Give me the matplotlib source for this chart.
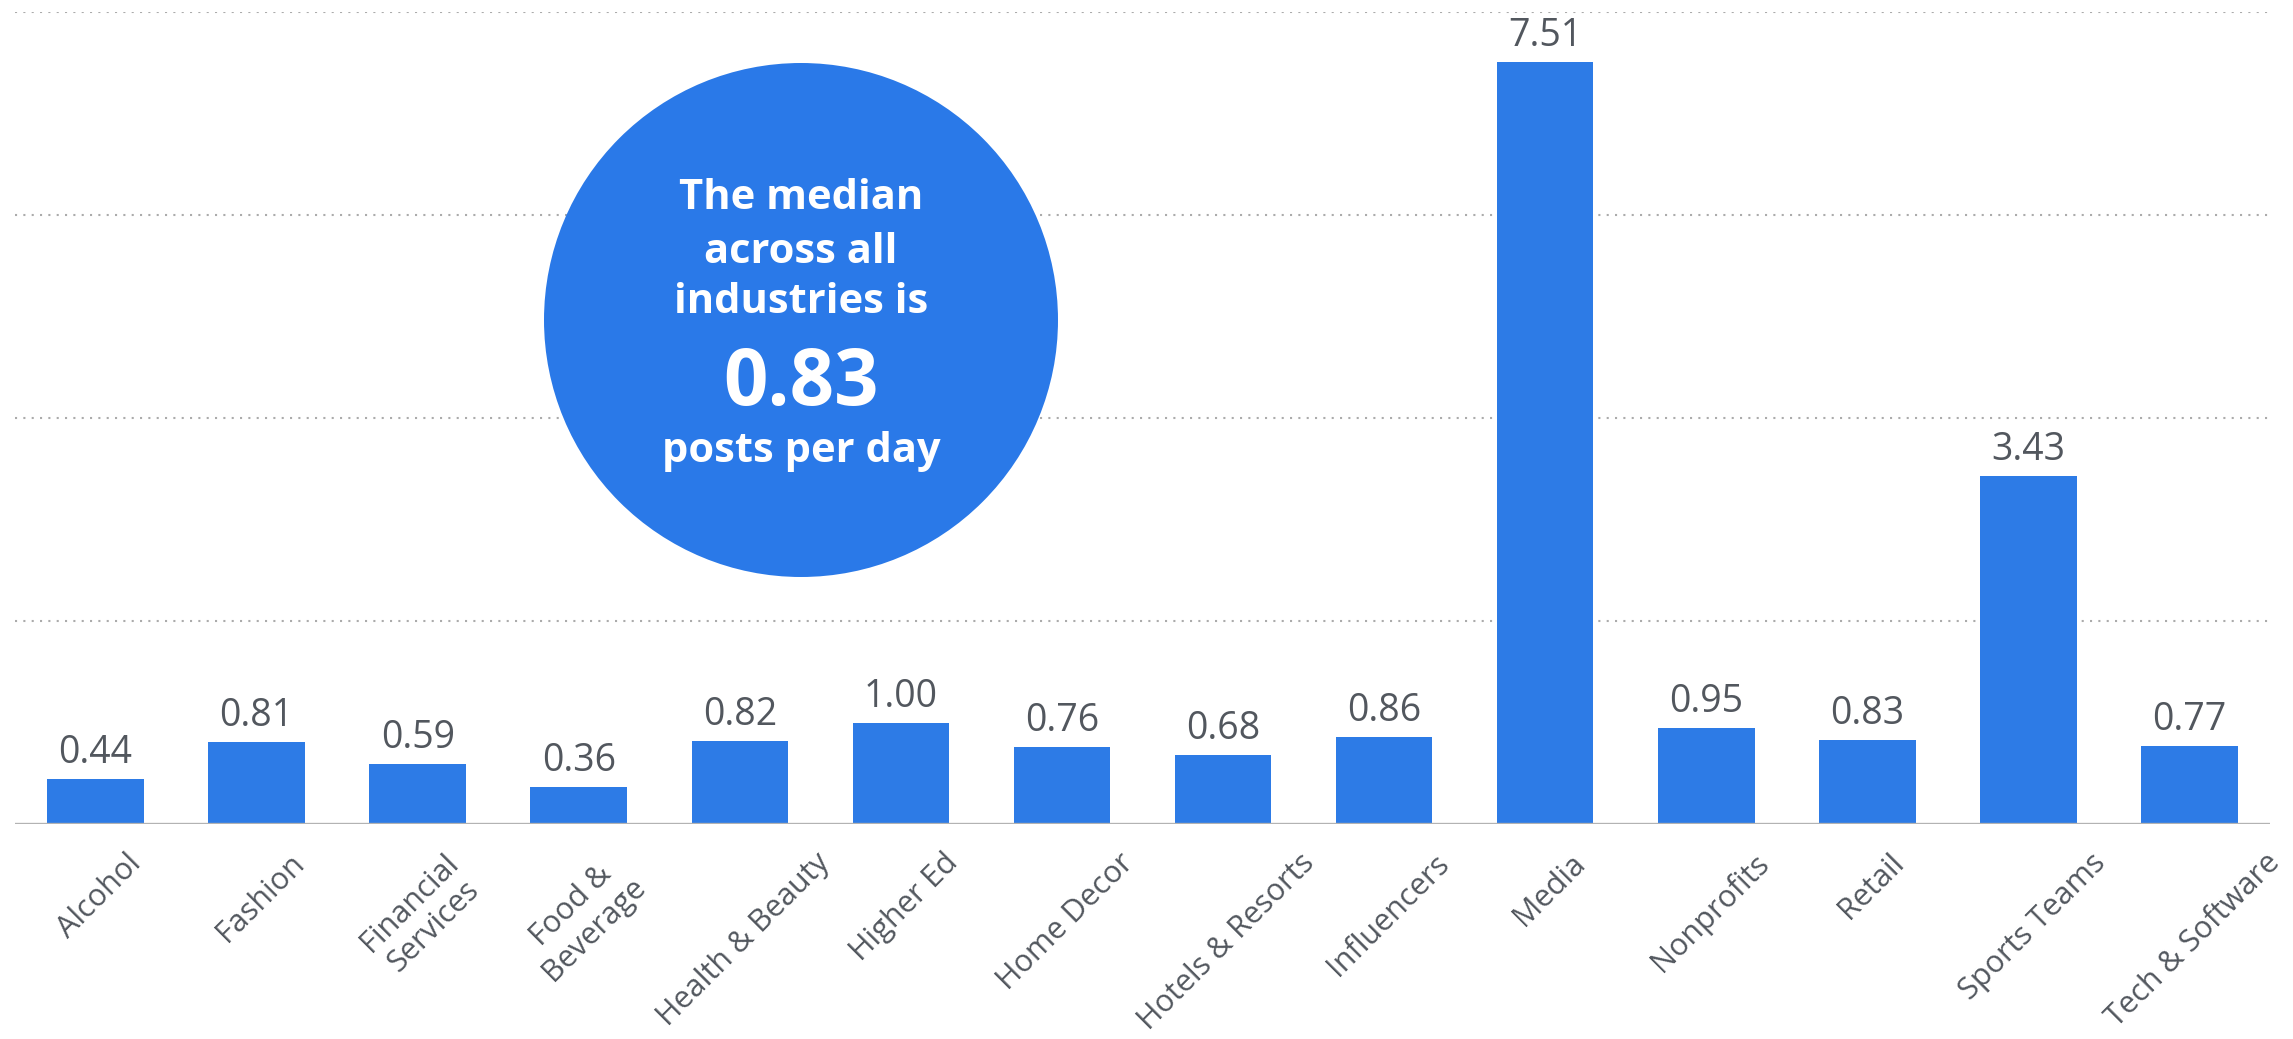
import matplotlib
matplotlib.use("Agg")
import matplotlib.pyplot as plt
from matplotlib.patches import Ellipse
from matplotlib.transforms import ScaledTranslation, blended_transform_factory

# Median posts per day by industry
industries = ["Alcohol", "Fashion", "Financial\nServices", "Food &\nBeverage",
              "Health & Beauty", "Higher Ed", "Home Decor", "Hotels & Resorts",
              "Influencers", "Media", "Nonprofits", "Retail", "Sports Teams",
              "Tech & Software"]
posts_per_day = [0.44, 0.81, 0.59, 0.36, 0.82, 1.00, 0.76, 0.68, 0.86,
                 7.51, 0.95, 0.83, 3.43, 0.77]
y_ticks = [2, 4, 6, 8]
median_value = 0.83

BAR_BLUE = "#2d7be6"
BUBBLE_BLUE = "#2a79e8"
TEXT_GREY = "#52575e"
FONT = "Open Sans"

W, H = 2293, 1039
fig = plt.figure(figsize=(W / 100, H / 100), dpi=100)
fig.patch.set_facecolor("white")

ax = fig.add_axes([15 / W, 215 / H, 2255 / W, 812 / H])
ax.set_xlim(-0.5, len(industries) - 0.5)
ax.set_ylim(0, 8)

x = list(range(len(industries)))
ax.bar(x, posts_per_day, width=0.6, color=BAR_BLUE, zorder=3)

# dotted horizontal grid and solid baseline
for t in y_ticks:
    ax.axhline(t, color="#ababab", linewidth=1.5, linestyle=(0, (1, 3)),
               zorder=1)
ax.axhline(0, color="#b3b3b3", linewidth=2.4, zorder=4)

for s in ax.spines.values():
    s.set_visible(False)
ax.set_xticks([])
ax.set_yticks([])

# value labels above bars
for xi, v in zip(x, posts_per_day):
    ax.annotate(f"{v:.2f}", (xi, v), xytext=(0, 11.5), textcoords="offset points",
                ha="center", va="baseline", fontsize=27, family=FONT,
                color=TEXT_GREY, zorder=5)

# rotated category labels, centred under each bar
base = blended_transform_factory(ax.transData, ax.transAxes)
offset = ScaledTranslation(4 / 100, -24 / 100, fig.dpi_scale_trans)
for xi, name in zip(x, industries):
    ax.text(xi, 0, name, transform=base + offset, rotation=45,
            rotation_mode="default", ha="center", va="top",
            multialignment="center", linespacing=1.15,
            fontsize=22, family=FONT, color=TEXT_GREY)

# median callout bubble
cx, cy, r = 801, 320, 257
bubble = Ellipse((cx / W, 1 - cy / H), 2 * r / W, 2 * r / H,
                 transform=fig.transFigure, facecolor=BUBBLE_BLUE,
                 edgecolor="none", zorder=10)
fig.patches.append(bubble)

callout = [("The median", 209, 30), ("across all", 263, 30),
           ("industries is", 313, 30), (f"{median_value:.2f}", 405, 56),
           ("posts per day", 462, 30)]
for txt, yb, size in callout:
    fig.text(cx / W, 1 - yb / H, txt, ha="center", va="baseline",
             fontsize=size, family=FONT, fontweight="bold", color="white",
             zorder=11)

fig.savefig("out.png", dpi=100, facecolor="white")
